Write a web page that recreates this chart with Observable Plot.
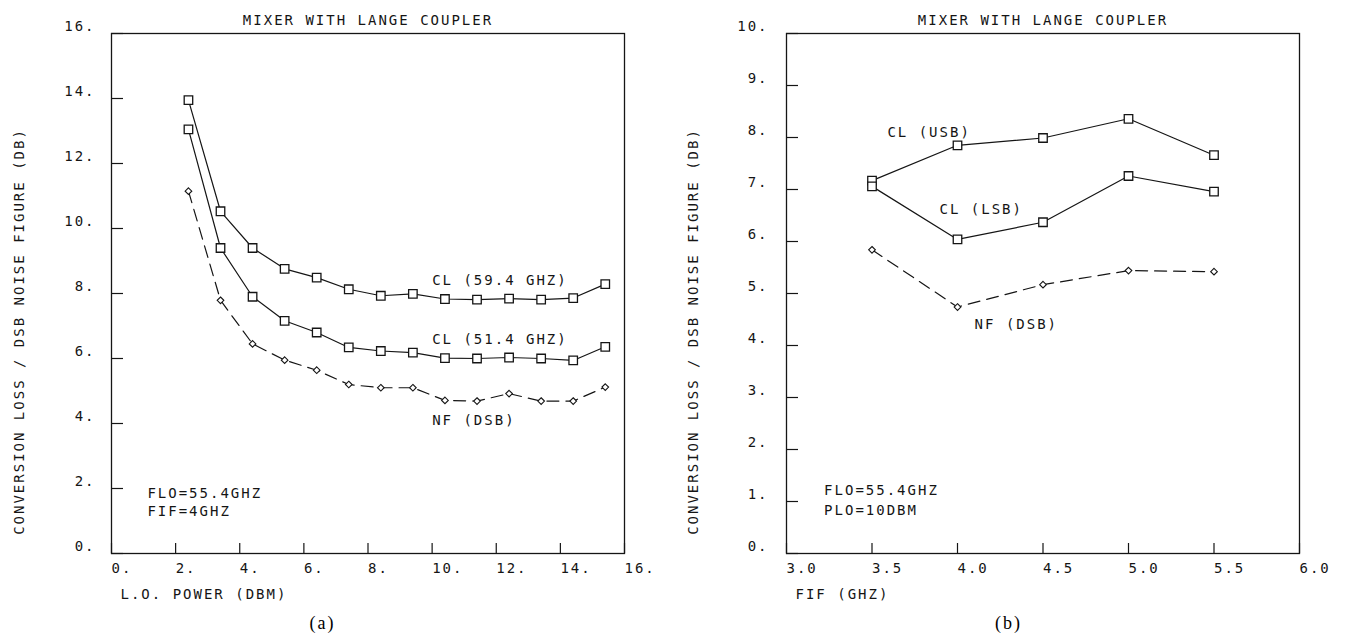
<!DOCTYPE html>
<html><head><meta charset="utf-8">
<script src="https://cdn.jsdelivr.net/npm/d3@7"></script>
<script src="https://cdn.jsdelivr.net/npm/@observablehq/plot@0.6"></script>
<style>
html,body{margin:0;padding:0;background:#fff;}
#wrap{display:flex;width:1345px;height:643px;}
#wrap svg{display:block;}
#wrap svg text{letter-spacing:2px;}
#wrap svg g[aria-label="caption"] text{letter-spacing:0;}
</style></head><body><div id="wrap"></div>
<script>
// ---- Chart (a): L.O. power sweep ----
const loPower = [2.4, 3.4, 4.4, 5.4, 6.4, 7.4, 8.4, 9.4, 10.4, 11.4, 12.4, 13.4, 14.4, 15.4];
const cl594 = [13.95, 10.53, 9.40, 8.76, 8.49, 8.13, 7.93, 7.99, 7.83, 7.81, 7.84, 7.81, 7.86, 8.29];
const cl514 = [13.05, 9.40, 7.90, 7.16, 6.80, 6.34, 6.23, 6.18, 6.01, 6.00, 6.03, 6.00, 5.94, 6.36];
const nfA   = [11.15, 7.79, 6.45, 5.95, 5.64, 5.20, 5.10, 5.10, 4.71, 4.69, 4.92, 4.69, 4.69, 5.12];
const namesA = ["CL (59.4 GHZ)", "CL (51.4 GHZ)", "NF (DSB)"];
const xTicksA = [0, 2, 4, 6, 8, 10, 12, 14, 16];
const yTicksA = [0, 2, 4, 6, 8, 10, 12, 14, 16];
const notesA = ["FLO=55.4GHZ", "FIF=4GHZ"];

// ---- Chart (b): IF sweep ----
const fif   = [3.5, 4.0, 4.5, 5.0, 5.5];
const clUSB = [7.17, 7.85, 7.99, 8.36, 7.66];
const clLSB = [7.06, 6.04, 6.37, 7.26, 6.96];
const nfB   = [5.84, 4.74, 5.17, 5.44, 5.42];
const namesB = ["CL (USB)", "CL (LSB)", "NF (DSB)"];
const xTicksB = [3.0, 3.5, 4.0, 4.5, 5.0, 5.5, 6.0];
const yTicksB = [0, 1, 2, 3, 4, 5, 6, 7, 8, 9, 10];
const notesB = ["FLO=55.4GHZ", "PLO=10DBM"];

const title = "MIXER WITH LANGE COUPLER";
const yTitle = "CONVERSION LOSS / DSB NOISE FIGURE (DB)";

// label anchor positions (data units)
const legendPosA = [[10.0, 8.39], [10.0, 6.59], [10.0, 4.10]];
const legendPosB = [[3.59, 8.10], [3.895, 6.61], [4.10, 4.40]];
const notePosA = [[1.12, 1.85], [1.12, 1.29]];
const notePosB = [[3.22, 1.21], [3.22, 0.82]];

function rows(xs, series, names) {
  const out = [];
  series.forEach((vals, i) => vals.forEach((v, j) => out.push({name: names[i], kind: names[i].startsWith("NF") ? "nf" : "cl", x: xs[j], y: v})));
  return out;
}

const ink = "#151515";
const font = "'DejaVu Sans Mono', monospace";

function chart(o) {
  const data = rows(o.xs, o.series, o.names);
  const cl = data.filter(d => d.kind === "cl");
  const nf = data.filter(d => d.kind === "nf");
  const legend = o.names.map((n, i) => ({text: n, x: o.legendPos[i][0], y: o.legendPos[i][1]}));
  const notes = o.notes.map((n, i) => ({text: n, x: o.notePos[i][0], y: o.notePos[i][1]}));
  return Plot.plot({
    width: o.width, height: 643,
    marginLeft: o.marginLeft, marginRight: o.marginRight, marginTop: 33, marginBottom: 90,
    style: {fontFamily: font, fontSize: "14px", color: ink, background: "#fff"},
    x: {domain: o.xDomain},
    y: {domain: o.yDomain},
    marks: [
      Plot.frame({stroke: ink, strokeWidth: 1.3}),
      Plot.axisX(o.xTicks, {tickSize: -10, fill: "none", stroke: ink, strokeWidth: 1.2, label: null}),
      Plot.axisX(o.xTicks, {tickSize: 0, tickPadding: 10, tickFormat: o.xFmt, textAnchor: "start", label: null, fill: ink}),
      Plot.axisY(o.yTicks, {tickSize: -12, fill: "none", stroke: ink, strokeWidth: 1.2, label: null}),
      Plot.axisY(o.yTicks, {tickSize: 0, tickPadding: o.yPad, dy: -7, tickFormat: d => d + ".", label: null, fill: ink}),
      Plot.line(cl, {x: "x", y: "y", z: "name", stroke: ink, strokeWidth: 1.2}),
      Plot.line(nf, {x: "x", y: "y", z: "name", stroke: ink, strokeWidth: 1.2, strokeDasharray: "12,7"}),
      Plot.dot(cl, {x: "x", y: "y", symbol: "square", r: 4.8, fill: "white", stroke: ink, strokeWidth: 1.3}),
      Plot.dot(nf, {x: "x", y: "y", symbol: "diamond2", r: 3, fill: "white", stroke: ink, strokeWidth: 1.1}),
      Plot.text(legend, {x: "x", y: "y", text: "text", textAnchor: "start", fill: ink}),
      Plot.text(notes, {x: "x", y: "y", text: "text", textAnchor: "start", fill: ink}),
      Plot.text([title], {frameAnchor: "top", dy: -18, textAnchor: "middle", fill: ink}),
      Plot.text([yTitle], {frameAnchor: "left", dx: o.yTitleDx, dy: 38, rotate: -90, textAnchor: "middle", fill: ink}),
      Plot.text([o.xTitle], {frameAnchor: "bottom-left", dx: 9, dy: 45, textAnchor: "start", fill: ink}),
      Plot.text([o.caption], {frameAnchor: "bottom-left", dx: o.captionDx, dy: 75, textAnchor: "middle", fontFamily: "'Liberation Serif', serif", fontSize: 18, fill: "#000", ariaLabel: "caption"})
    ]
  });
}

const wrap = document.getElementById("wrap");
wrap.appendChild(chart({
  width: 672, marginLeft: 111, marginRight: 48,
  xs: loPower, series: [cl594, cl514, nfA], names: namesA,
  xDomain: [0, 16], yDomain: [0, 16], xTicks: xTicksA, yTicks: yTicksA,
  xFmt: d => d + ".", yPad: 16,
  legendPos: legendPosA, notes: notesA, notePos: notePosA,
  xTitle: "L.O. POWER (DBM)", caption: "(a)", captionDx: 211, yTitleDx: -92
}));
wrap.appendChild(chart({
  width: 673, marginLeft: 114, marginRight: 46,
  xs: fif, series: [clUSB, clLSB, nfB], names: namesB,
  xDomain: [3, 6], yDomain: [0, 10], xTicks: xTicksB, yTicks: yTicksB,
  xFmt: d => d.toFixed(1), yPad: 18,
  legendPos: legendPosB, notes: notesB, notePos: notePosB,
  xTitle: "FIF (GHZ)", caption: "(b)", captionDx: 222, yTitleDx: -93
}));
</script>
</body></html>
